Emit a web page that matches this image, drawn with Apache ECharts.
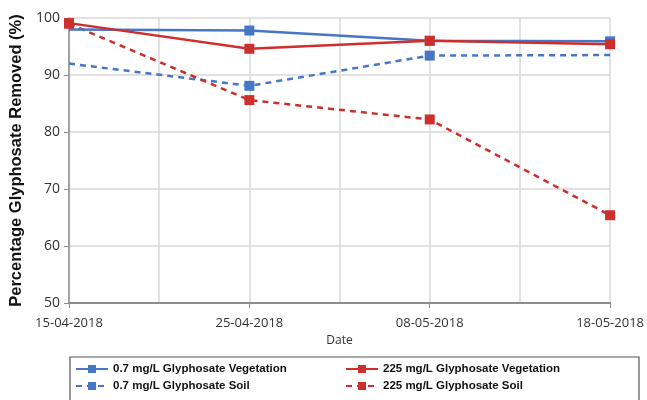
<!DOCTYPE html>
<html>
<head>
<meta charset="utf-8">
<script src="https://cdn.jsdelivr.net/npm/echarts@6/dist/echarts.min.js"></script>
<style>html,body{margin:0;padding:0;background:#fff;}#c{width:647px;height:400px;}</style>
</head>
<body>
<div id="c"></div>
<script>
const categories = ['15-04-2018', '25-04-2018', '08-05-2018', '18-05-2018'];
const yTicks = [50, 60, 70, 80, 90, 100];
const veg07 = [98.0, 97.8, 96.0, 95.9];
const veg225 = [99.1, 94.6, 96.0, 95.4];
const soil07 = [92.0, 88.1, 93.4, 93.5];
const soil225 = [99.0, 85.6, 82.2, 65.4];

const BLUE = '#4677c6';
const RED = '#cf2f2c';

function pts(arr, hidden) {
  return arr.map((v, i) => {
    const o = { value: [i, v] };
    if (hidden && hidden.indexOf(i) >= 0) o.symbol = 'none';
    return o;
  });
}

const chart = echarts.init(document.getElementById('c'));
const labelFont = { fontFamily: 'Open Sans', fontSize: 13, color: '#333' };
const legendText = { fontFamily: 'Liberation Sans', fontSize: 11.5, fontWeight: 'bold', color: '#111' };

function mkSeries(name, data, color, dashed, hidden) {
  return {
    name: name, type: 'line', data: pts(data, hidden),
    symbol: 'rect', symbolSize: 10,
    lineStyle: { color: color, width: 2.5, type: dashed ? [6, 5] : 'solid' },
    itemStyle: { color: color },
    animation: false
  };
}

chart.setOption({
  animation: false,
  grid: { left: 68, right: 33, top: 18, bottom: 97 },
  xAxis: {
    type: 'value', min: 0, max: categories.length - 1, interval: 1,
    name: 'Date', nameLocation: 'middle', nameGap: 17,
    nameTextStyle: { fontFamily: 'Open Sans', fontSize: 12, color: '#333' },
    axisLine: { show: true, lineStyle: { color: '#8c8c8c', width: 2 } },
    axisTick: { show: true, length: 5, lineStyle: { color: '#8c8c8c' } },
    axisLabel: Object.assign({ margin: 14, formatter: v => categories[v] || '' }, labelFont),
    splitLine: { show: true, lineStyle: { color: '#d9d9d9', width: 1.5 } },
    minorTick: { show: false, splitNumber: 2 },
    minorSplitLine: { show: true, lineStyle: { color: '#d9d9d9', width: 1.5 } }
  },
  yAxis: {
    type: 'value', min: yTicks[0], max: yTicks[yTicks.length - 1], interval: 10,
    name: 'Percentage Glyphosate Removed (%)', nameLocation: 'middle', nameGap: 44,
    nameTextStyle: { fontFamily: 'Liberation Sans', fontSize: 16.5, fontWeight: 'bold', color: '#111' },
    axisLine: { show: true, lineStyle: { color: '#8c8c8c', width: 1.5 } },
    axisTick: { show: true, length: 5, lineStyle: { color: '#8c8c8c' } },
    axisLabel: Object.assign({ margin: 9 }, labelFont, { fontSize: 14 }),
    splitLine: { show: true, lineStyle: { color: '#d9d9d9', width: 1.5 } }
  },
  graphic: [{
    type: 'rect', shape: { x: 70, y: 357, width: 569, height: 50 },
    style: { fill: 'none', stroke: '#555', lineWidth: 1.2 }, silent: true
  }],
  legend: [{
    orient: 'vertical', left: 75, top: 363, itemGap: 5, itemWidth: 32, itemHeight: 10,
    textStyle: legendText, padding: 0,
    data: ['0.7 mg/L Glyphosate Vegetation', '0.7 mg/L Glyphosate Soil']
  }, {
    orient: 'vertical', left: 345, top: 363, itemGap: 5, itemWidth: 32, itemHeight: 10,
    textStyle: legendText, padding: 0,
    data: ['225 mg/L Glyphosate Vegetation', '225 mg/L Glyphosate Soil']
  }],
  series: [
    mkSeries('0.7 mg/L Glyphosate Soil', soil07, BLUE, true, [0, 3]),
    mkSeries('225 mg/L Glyphosate Soil', soil225, RED, true, []),
    mkSeries('0.7 mg/L Glyphosate Vegetation', veg07, BLUE, false, [0]),
    mkSeries('225 mg/L Glyphosate Vegetation', veg225, RED, false, [])
  ]
});
</script>
</body>
</html>
